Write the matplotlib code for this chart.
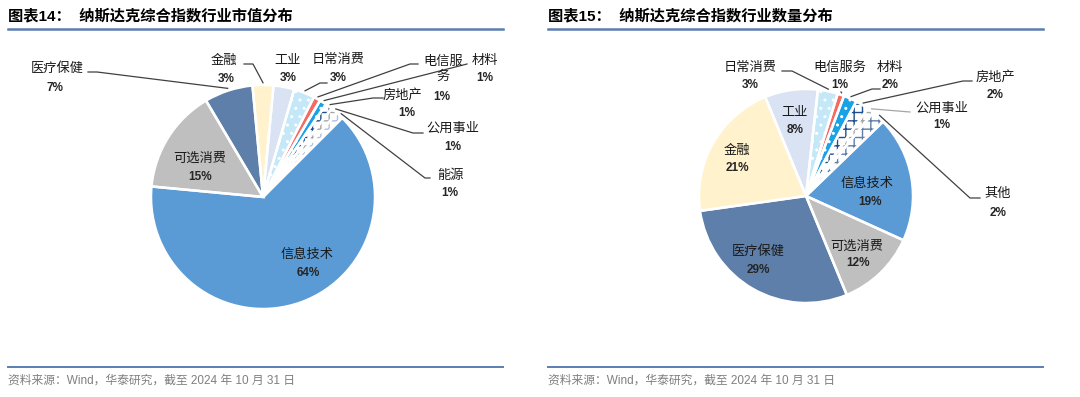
import matplotlib
matplotlib.use("Agg")
import numpy as np
from matplotlib import pyplot as plt

W, H = 1080, 397
CJK = ["Noto Sans CJK SC", "DejaVu Sans"]
MIX = ["Liberation Sans", "Noto Sans CJK SC"]

plt.rcParams["font.family"] = CJK
plt.rcParams["hatch.linewidth"] = 1.0

# ---- data ----
cap_sectors = ["信息技术", "可选消费", "医疗保健", "金融", "工业", "日常消费",
               "电信服务", "材料", "房地产", "公用事业", "能源"]
cap_share = [64, 15, 7, 3, 3, 3, 1, 1, 1, 1, 1]

cnt_sectors = ["信息技术", "可选消费", "医疗保健", "金融", "工业", "日常消费",
               "电信服务", "材料", "房地产", "公用事业", "其他"]
cnt_share = [19, 12, 29, 21, 8, 3, 1, 2, 2, 1, 2]

titles = ["图表14：  纳斯达克综合指数行业市值分布", "图表15：  纳斯达克综合指数行业数量分布"]
source = "资料来源：Wind，华泰研究，截至 2024 年 10 月 31 日"

# ---- styles: face colour, hatch, hatch colour ----
styles = {
    "信息技术": ("#5B9BD5", None, None),
    "可选消费": ("#BFBFBF", None, None),
    "医疗保健": ("#5D7FA9", None, None),
    "金融": ("#FFF2CC", None, None),
    "工业": ("#DAE3F3", None, None),
    "日常消费": ("#C4E8F8", "..", "white"),
    "电信服务": ("#F36C63", None, None),
    "材料": ("#19A2E6", "..", "white"),
    "房地产": ("white", "++", "#1F4E8C"),
    "公用事业": ("white", "++", "#A6A6A6"),
    "能源": ("white", "++", "#A9C0E0"),
    "其他": ("white", "++", "#5D7FA9"),
}

# label layout in pixels: name centre, pct centre, leader points (wedge end added)
cap_layout = {
    "信息技术": ((307, 254), (308, 273), None),
    "可选消费": ((200, 158), (200, 177), None),
    "医疗保健": ((57, 68), (55, 88), [(88, 72), (97, 72)]),
    "金融": ((224, 60), (226, 79), [(244, 64), (253, 64)]),
    "工业": ((288, 60), (288, 78), None),
    "日常消费": ((338, 60), (338, 78), [(327, 83), (320, 83)]),
    "电信服务": ((443, 69), (442, 97), [(418, 64), (410, 64)]),
    "材料": ((485, 60), (485, 78), [(467, 64)]),
    "房地产": ((402, 95), (407, 113), [(383, 98), (373, 98)]),
    "公用事业": ((453, 128), (453, 147), [(423, 133), (413, 133)]),
    "能源": ((450, 175), (450, 193), [(430, 178), (425, 178)]),
}
cnt_layout = {
    "信息技术": ((867, 183), (870, 202), None),
    "可选消费": ((857, 246), (858, 263), None),
    "医疗保健": ((758, 251), (758, 270), None),
    "金融": ((737, 150), (737, 168), None),
    "工业": ((795, 112), (795, 130), None),
    "日常消费": ((750, 67), (750, 85), [(782, 71), (792, 71)]),
    "电信服务": ((840, 67), (840, 85), [(841, 92)]),
    "材料": ((890, 67), (890, 85), [(880, 89), (872, 89)]),
    "房地产": ((995, 77), (995, 95), [(972, 81), (963, 81)]),
    "公用事业": ((942, 108), (942, 125), [(910, 112)]),
    "其他": ((998, 193), (998, 213), [(980, 198), (970, 198)]),
}

fig = plt.figure(figsize=(W / 100, H / 100), dpi=100)


def draw_pie(cx, cy, r, start, sectors, shares, layout, wrap, grey=()):
    ax = fig.add_axes([(cx - r) / W, 1 - (cy + r) / H, 2 * r / W, 2 * r / H])
    faces = [styles[s][0] for s in sectors]
    wedges, _ = ax.pie(shares, colors=faces, startangle=90 - start,
                       counterclock=False, radius=1,
                       wedgeprops=dict(linewidth=0))
    for w, s in zip(wedges, sectors):
        _, hatch, hc = styles[s]
        if hatch:
            w.set_hatch(hatch)
            w.set_edgecolor(hc)
    ax.pie(shares, colors=["none"] * len(shares), startangle=90 - start,
           counterclock=False, radius=1,
           wedgeprops=dict(edgecolor="white", linewidth=1.8))
    ax.set_xlim(-1, 1)
    ax.set_ylim(-1, 1)
    ax.axis("off")

    def d(p):
        return ((p[0] - cx) / r, (cy - p[1]) / r)

    for w, s, v in zip(wedges, sectors, shares):
        (nx, ny), (px, py), leader = layout[s]
        name = wrap.get(s, s)
        ax.text(*d((nx, ny)), name, ha="center", va="center", fontsize=9.5,
                color="#1a1a1a", linespacing=1.25, clip_on=False)
        ax.text(*d((px, py)), f"{v}%", ha="center", va="center", fontsize=8.5,
                family=MIX, fontweight="bold", color="#262626", clip_on=False)
        if leader:
            mid = np.deg2rad((w.theta1 + w.theta2) / 2)
            pts = [d(p) for p in leader] + [(1.02 * np.cos(mid), 1.02 * np.sin(mid))]
            xs, ys = zip(*pts)
            col = "#A6A6A6" if s in grey else "#404040"
            ax.plot(xs, ys, color=col, lw=0.9, clip_on=False)


draw_pie(263, 197, 112, 45, cap_sectors, cap_share, cap_layout,
         {"电信服务": "电信服\n务"})
draw_pie(806, 196, 107, 46, cnt_sectors, cnt_share, cnt_layout, {},
         grey=("公用事业",))

# titles, rules and source lines for both panels
for x0, x1, title in [(8, 503, titles[0]), (548, 1043, titles[1])]:
    fig.text(x0 / W, 1 - 16 / H, title, fontsize=11, fontweight="bold",
             family=MIX, va="center", ha="left", color="black")
    fig.add_artist(plt.Line2D([x0 / W, x1 / W], [1 - 29 / H] * 2,
                              color="#5B7DB1", lw=1.8))
    fig.add_artist(plt.Line2D([x0 / W, x1 / W], [1 - 367 / H] * 2,
                              color="#5B7DB1", lw=1.4))
    fig.text(x0 / W, 1 - 381 / H, source, fontsize=8.5, family=MIX,
             va="center", ha="left", color="#7F7F7F")

fig.savefig("out.png", dpi=100)
